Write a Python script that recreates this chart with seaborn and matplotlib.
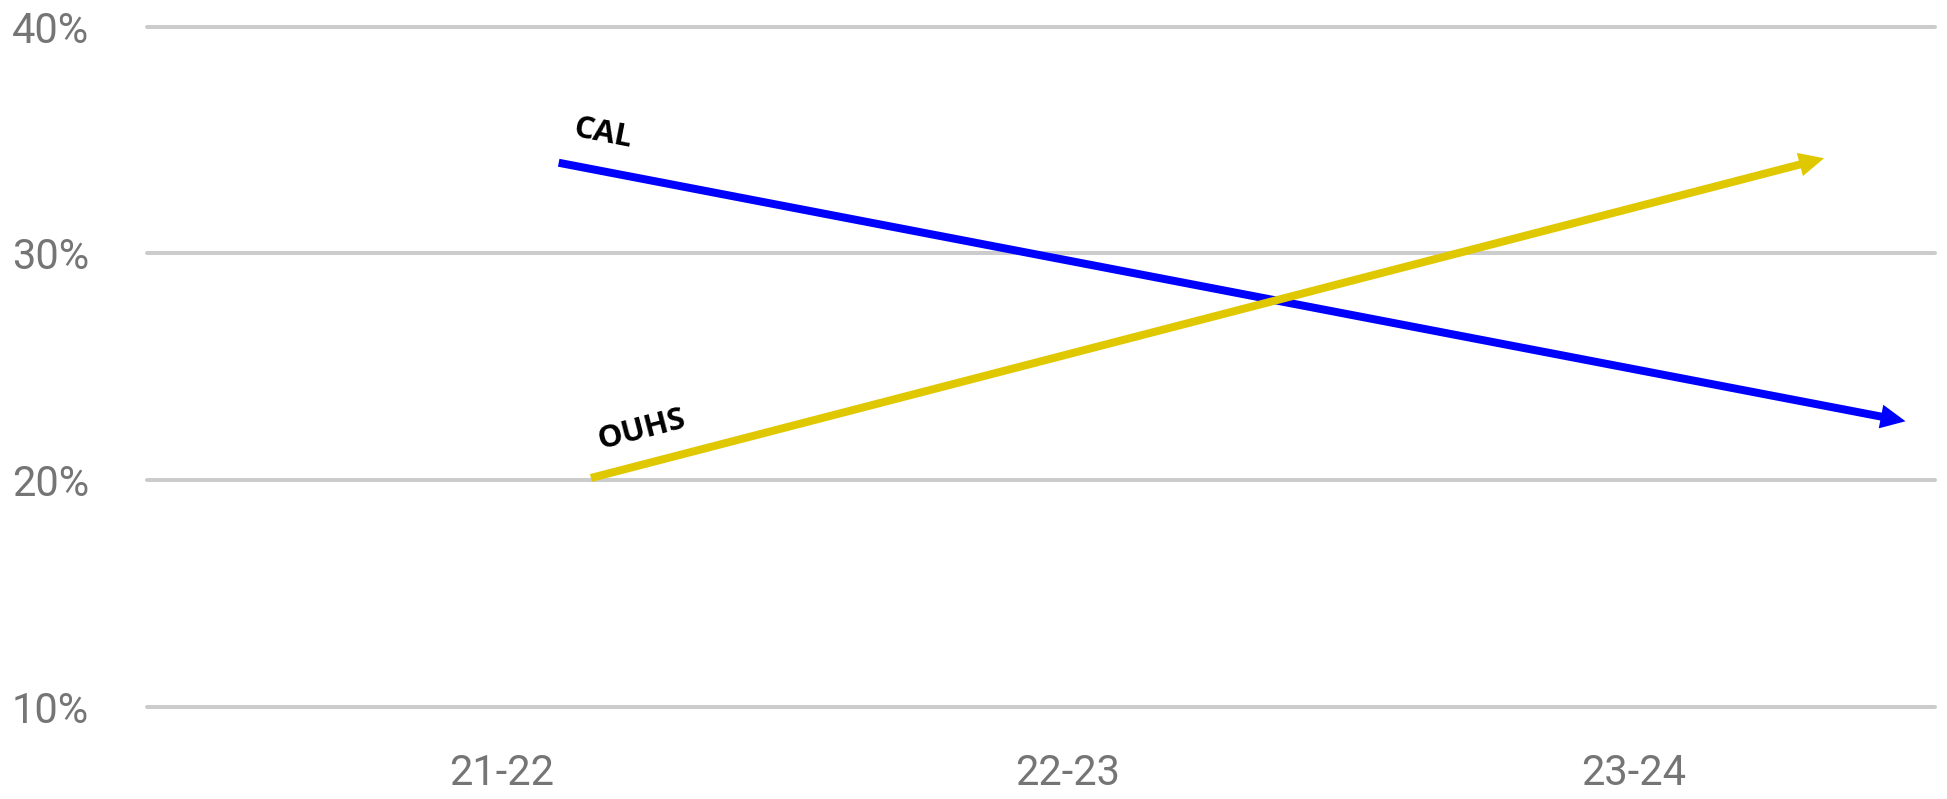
import numpy as np
import pandas as pd
import matplotlib
matplotlib.use("Agg")
import matplotlib.pyplot as plt
import seaborn as sns

# ---- data ----
categories = ["21-22", "22-23", "23-24"]
y_ticks = [10, 20, 30, 40]
series = ["CAL", "OUHS"]
# arrow start / end positions (x in category units, y in %)
cal_x = [0.10, 2.48]
cal_y = [34.0, 22.6]
ouhs_x = [0.157, 2.336]
ouhs_y = [20.1, 34.2]

colors = {"CAL": "#0000FF", "OUHS": "#E0C800"}

sns.set_theme(style="white")
plt.rcParams["font.family"] = ["Roboto", "DejaVu Sans"]

W, H, DPI = 1947, 799, 100
fig = plt.figure(figsize=(W / DPI, H / DPI), dpi=DPI)
fig.patch.set_facecolor("white")
ax = fig.add_axes([146.7 / W, 1 - 707 / H, (1935 - 146.7) / W, (707 - 26.7) / H])
ax.set_facecolor("white")
ax.set_xlim(-0.628, 2.532)
ax.set_ylim(10, 40)
for s in ax.spines.values():
    s.set_visible(False)

# grid lines
for v in y_ticks:
    ax.axhline(v, color="#cccccc", lw=2.9, clip_on=False, zorder=0)

ax.set_yticks(y_ticks)
ax.set_yticklabels([f"{v}%" for v in y_ticks])
ax.set_xticks(range(len(categories)))
ax.set_xticklabels(categories)
ax.tick_params(axis="y", length=0, pad=41.5, labelsize=30, labelcolor="#757575")
ax.tick_params(axis="x", length=0, pad=33, labelsize=30, labelcolor="#757575")
ax.set_xlabel("")
ax.set_ylabel("")

lw_px = 8.0
head_len = 25.0
head_w = 24.0

rows = []
heads = []
for name, xs, ys in [("CAL", cal_x, cal_y), ("OUHS", ouhs_x, ouhs_y)]:
    p0 = ax.transData.transform((xs[0], ys[0]))
    p1 = ax.transData.transform((xs[1], ys[1]))
    u = (p1 - p0) / np.linalg.norm(p1 - p0)
    perp = np.array([-u[1], u[0]])
    base = p1 - u * (head_len - 1.5)
    bd = ax.transData.inverted().transform(base)
    rows.append({"series": name, "x": xs[0], "y": ys[0]})
    rows.append({"series": name, "x": bd[0], "y": bd[1]})
    hb = p1 - u * head_len
    tri = np.array([p1, hb + perp * head_w / 2, hb - perp * head_w / 2])
    tri_d = ax.transData.inverted().transform(tri)
    heads.append((name, tri_d))

df = pd.DataFrame(rows)
sns.lineplot(data=df, x="x", y="y", hue="series", palette=colors, sort=False,
             estimator=None, units="series", lw=lw_px * 72 / DPI, legend=False,
             ax=ax, solid_capstyle="butt", zorder=3)
for name, tri_d in heads:
    ax.fill(tri_d[:, 0], tri_d[:, 1], color=colors[name], lw=0, zorder=4)

ax.set_xlim(-0.628, 2.532)
ax.set_ylim(10, 40)
ax.set_xlabel("")
ax.set_ylabel("")

lab_font = ["Open Sans", "DejaVu Sans"]
ax.text(0.177, 35.27, "CAL", rotation=-11, rotation_mode="anchor", ha="center", va="center",
        fontsize=22.5, fontweight="bold", family=lab_font, color="black")
ax.text(0.246, 22.22, "OUHS", rotation=14.5, rotation_mode="anchor", ha="center", va="center",
        fontsize=22.5, fontweight="bold", family=lab_font, color="black")

fig.savefig("out.png", dpi=DPI, facecolor="white")
